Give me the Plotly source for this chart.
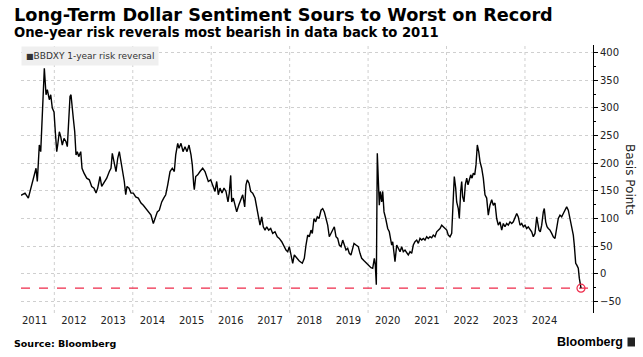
import plotly.graph_objects as go

# ---- data (decimal years, basis points) ----
years = [
    2011.150, 2011.252, 2011.337, 2011.398, 2011.464, 2011.533, 2011.566, 2011.617, 2011.653, 2011.694,
    2011.745, 2011.788, 2011.821, 2011.872, 2011.908, 2011.948, 2011.992, 2012.025, 2012.061, 2012.086,
    2012.127, 2012.163, 2012.203, 2012.247, 2012.298, 2012.331, 2012.367, 2012.400, 2012.425, 2012.451,
    2012.484, 2012.520, 2012.553, 2012.586, 2012.622, 2012.673, 2012.706, 2012.757, 2012.826, 2012.892,
    2012.953, 2013.012, 2013.063, 2013.106, 2013.165, 2013.208, 2013.267, 2013.336, 2013.402, 2013.445,
    2013.478, 2013.522, 2013.573, 2013.616, 2013.657, 2013.692, 2013.733, 2013.784, 2013.820, 2013.853,
    2013.904, 2013.955, 2014.014, 2014.075, 2014.141, 2014.210, 2014.269, 2014.330, 2014.396, 2014.465,
    2014.524, 2014.567, 2014.626, 2014.677, 2014.738, 2014.789, 2014.840, 2014.891, 2014.950, 2015.008,
    2015.059, 2015.095, 2015.146, 2015.179, 2015.230, 2015.281, 2015.332, 2015.383, 2015.434, 2015.485,
    2015.518, 2015.554, 2015.569, 2015.605, 2015.656, 2015.714, 2015.783, 2015.842, 2015.885, 2015.926,
    2015.987, 2016.038, 2016.097, 2016.140, 2016.181, 2016.224, 2016.275, 2016.326, 2016.377, 2016.428,
    2016.461, 2016.497, 2016.523, 2016.563, 2016.607, 2016.650, 2016.701, 2016.752, 2016.803, 2016.854,
    2016.887, 2016.920, 2016.964, 2017.007, 2017.058, 2017.117, 2017.160, 2017.201, 2017.244, 2017.288,
    2017.328, 2017.372, 2017.415, 2017.466, 2017.517, 2017.568, 2017.627, 2017.685, 2017.736, 2017.798,
    2017.838, 2017.907, 2017.951, 2017.991, 2018.027, 2018.078, 2018.119, 2018.180, 2018.246, 2018.323,
    2018.374, 2018.417, 2018.460, 2018.501, 2018.545, 2018.578, 2018.621, 2018.664, 2018.705, 2018.749,
    2018.800, 2018.843, 2018.884, 2018.927, 2018.970, 2019.011, 2019.054, 2019.098, 2019.139, 2019.182,
    2019.225, 2019.266, 2019.310, 2019.353, 2019.394, 2019.437, 2019.480, 2019.521, 2019.564, 2019.608,
    2019.641, 2019.692, 2019.751, 2019.794, 2019.837, 2019.904, 2019.965, 2020.024, 2020.074, 2020.118,
    2020.159, 2020.184, 2020.202, 2020.210, 2020.235, 2020.261, 2020.286, 2020.312, 2020.347, 2020.373,
    2020.406, 2020.449, 2020.500, 2020.541, 2020.559, 2020.602, 2020.628, 2020.686, 2020.730, 2020.770,
    2020.814, 2020.857, 2020.898, 2020.941, 2020.985, 2021.025, 2021.069, 2021.112, 2021.153, 2021.196,
    2021.240, 2021.281, 2021.324, 2021.367, 2021.408, 2021.451, 2021.495, 2021.535, 2021.579, 2021.622,
    2021.663, 2021.706, 2021.750, 2021.790, 2021.834, 2021.877, 2021.918, 2021.961, 2022.005, 2022.045,
    2022.089, 2022.132, 2022.173, 2022.198, 2022.234, 2022.259, 2022.300, 2022.326, 2022.361, 2022.387,
    2022.412, 2022.446, 2022.479, 2022.515, 2022.548, 2022.581, 2022.617, 2022.650, 2022.683, 2022.719,
    2022.752, 2022.785, 2022.821, 2022.854, 2022.897, 2022.938, 2022.981, 2023.024, 2023.065, 2023.108,
    2023.152, 2023.193, 2023.236, 2023.279, 2023.320, 2023.364, 2023.407, 2023.448, 2023.491, 2023.534,
    2023.575, 2023.619, 2023.662, 2023.703, 2023.746, 2023.790, 2023.830, 2023.874, 2023.917, 2023.958,
    2024.001, 2024.045, 2024.085, 2024.129, 2024.172, 2024.213, 2024.256, 2024.300, 2024.325, 2024.358,
    2024.391, 2024.427, 2024.468, 2024.493, 2024.529, 2024.562, 2024.595, 2024.638, 2024.682, 2024.722,
    2024.766, 2024.809, 2024.850, 2024.893, 2024.937, 2024.978, 2025.021, 2025.064, 2025.105, 2025.149,
    2025.192, 2025.233, 2025.258, 2025.276, 2025.294, 2025.319, 2025.360, 2025.386, 2025.412, 2025.429,
]
bps = [
    142, 146, 137, 155, 173, 191, 167, 233, 221, 290,
    372, 324, 333, 315, 324, 300, 293, 257, 221, 233,
    257, 248, 233, 245, 239, 230, 269, 321, 324, 309,
    281, 257, 215, 221, 212, 221, 191, 182, 173, 170,
    158, 155, 146, 155, 176, 158, 164, 173, 185, 191,
    218, 203, 185, 209, 221, 206, 191, 167, 143, 158,
    155, 146, 146, 139, 137, 128, 124, 118, 112, 106,
    91, 100, 112, 115, 130, 137, 143, 161, 185, 191,
    185, 215, 236, 227, 236, 221, 230, 221, 233, 215,
    197, 161, 152, 176, 179, 185, 191, 185, 173, 167,
    170, 161, 149, 167, 143, 155, 146, 155, 149, 130,
    146, 178, 130, 137, 124, 112, 124, 134, 143, 121,
    161, 170, 164, 149, 146, 137, 118, 106, 88, 103,
    85, 79, 85, 79, 82, 73, 76, 67, 64, 58,
    52, 43, 40, 49, 37, 19, 34, 28, 23, 19,
    28, 52, 70, 67, 79, 73, 100, 94, 103, 100,
    115, 118, 112, 100, 88, 67, 73, 79, 85, 67,
    64, 52, 49, 61, 52, 43, 46, 37, 34, 46,
    55, 52, 49, 37, 28, 23, 19, 14, 11, 10,
    28, 16, -5, -20, 218, 155, 124, 149, 130, 149,
    112, 100, 82, 76, 67, 52, 58, 22, 52, 46,
    40, 49, 40, 43, 37, 34, 40, 37, 52, 58,
    61, 55, 64, 61, 64, 61, 67, 64, 67, 65,
    70, 67, 76, 79, 82, 88, 85, 82, 79, 70,
    67, 73, 130, 176, 155, 130, 118, 100, 149, 167,
    139, 130, 161, 173, 161, 170, 179, 173, 182, 179,
    197, 233, 221, 203, 191, 173, 143, 137, 106, 124,
    134, 124, 128, 100, 88, 94, 79, 91, 85, 91,
    88, 94, 91, 94, 100, 109, 103, 88, 91, 85,
    88, 82, 85, 79, 76, 67, 73, 103, 88, 79,
    76, 88, 112, 118, 94, 85, 82, 79, 73, 67,
    64, 82, 100, 106, 103, 109, 115, 121, 115, 100,
    88, 70, 52, 28, 19, 16, 10, -8, -24, -26,
]

x_tick_labels = [str(y) for y in range(2011, 2025)]
x_tick_positions = [y + 0.5 for y in range(2011, 2025)]
x_grid_years = list(range(2012, 2025, 2))
y_ticks = list(range(-50, 401, 50))
record_low = bps[-1]

series_name = "BBDXY 1-year risk reversal"
title = "Long-Term Dollar Sentiment Sours to Worst on Record"
subtitle = "One-year risk reverals most bearish in data back to 2011"
source = "Source: Bloomberg"

RED = "#ee2a4a"
GRID = "#cfcfcf"
FONT = "DejaVu Sans"

fig = go.Figure()

# vertical dotted gridlines at even years
for gx in x_grid_years:
    fig.add_shape(type="line", xref="x", x0=gx, x1=gx, yref="paper", y0=0, y1=1,
                  line=dict(color=GRID, width=1, dash="dot"), layer="below")

fig.add_shape(type="line", xref="paper", x0=0, x1=1, yref="y", y0=record_low, y1=record_low,
              line=dict(color=RED, width=1.3, dash="dash"), layer="below")

fig.add_trace(go.Scatter(
    x=years, y=bps, mode="lines", name=series_name,
    line=dict(color="black", width=1.4), showlegend=False,
    hoverinfo="skip",
))
fig.add_trace(go.Scatter(
    x=[years[-1]], y=[bps[-1]], mode="markers", showlegend=False,
    marker=dict(symbol="circle-open", size=8, color=RED, line=dict(width=1.2, color=RED)),
    hoverinfo="skip",
))

fig.update_layout(
    width=643, height=357,
    margin=dict(l=21, r=50, t=45, b=44),
    paper_bgcolor="white", plot_bgcolor="white",
    font=dict(family=FONT, color="#222222", size=10),
    xaxis=dict(
        range=[2011.15, 2025.735],
        tickmode="array", tickvals=x_tick_positions, ticktext=x_tick_labels,
        showgrid=False, zeroline=False, showline=False, ticks="",
        tickfont=dict(size=10, color="#222222"),
    ),
    yaxis=dict(
        range=[-71, 414], side="right",
        tickmode="array", tickvals=y_ticks,
        showgrid=True, gridcolor=GRID, griddash="dot", gridwidth=1,
        zeroline=False, showline=True, linecolor="black", linewidth=1,
        ticks="outside", ticklen=4, tickcolor="black", tickwidth=1,
        tickfont=dict(size=10, color="#222222"),
        minor=dict(dtick=25, tick0=0, ticks="outside", ticklen=2, tickcolor="black", showgrid=False),
    ),
    showlegend=False,
)

pw, ph = 572.0, 268.0
def px_x(px):
    return (px - 21) / pw
def px_y(py):
    return (313 - py) / ph

annos = [
    dict(text=f"<b>{title}</b>", x=px_x(12), y=px_y(15), font=dict(size=17.7, color="black", family=FONT)),
    dict(text=f"<b>{subtitle}</b>", x=px_x(12), y=px_y(32.5), font=dict(size=13.2, color="black", family=FONT)),
    dict(text=f"<b>{source}</b>", x=px_x(12), y=px_y(343), font=dict(size=9.5, color="black", family=FONT)),
]
for a in annos:
    fig.add_annotation(xref="paper", yref="paper", xanchor="left", yanchor="middle",
                       showarrow=False, **a)

fig.add_annotation(xref="paper", yref="paper", x=0, y=px_y(55.5), xanchor="left", yanchor="middle",
                   text="<span style='font-size:8px'>■</span>" + series_name, showarrow=False,
                   bgcolor="#efefef", borderpad=4,
                   font=dict(size=9, color="#333333", family=FONT))

fig.add_annotation(xref="paper", yref="paper", x=px_x(630), y=px_y(180), xanchor="center", yanchor="middle",
                   text="Basis Points", textangle=90, showarrow=False,
                   font=dict(size=12, color="#222222", family=FONT))

fig.add_annotation(xref="paper", yref="paper", x=px_x(625), y=px_y(342), xanchor="right", yanchor="middle",
                   text="<b>Bloomberg</b>", showarrow=False,
                   font=dict(size=12.5, color="black", family="Liberation Sans"))
fig.add_shape(type="rect", xref="paper", yref="paper",
              x0=px_x(627.5), x1=px_x(635), y0=px_y(346.5), y1=px_y(337.5),
              fillcolor="#222222", line=dict(width=0))

fig.write_html("out.html", config={"displayModeBar": False},
               post_script="document.body.style.margin='0';")
